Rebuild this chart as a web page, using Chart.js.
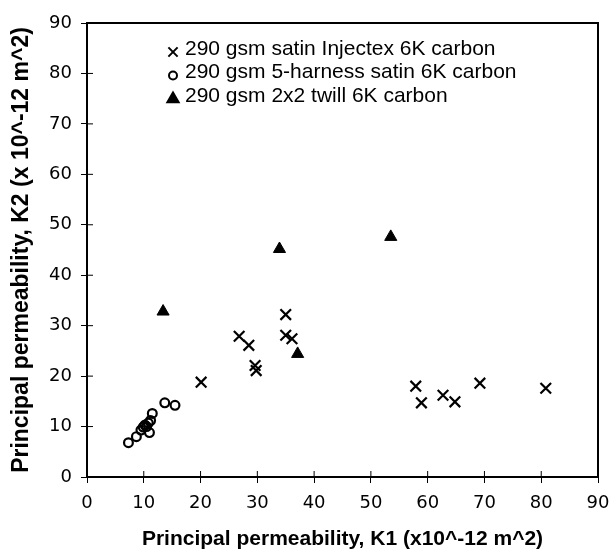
<!DOCTYPE html>
<html><head><meta charset="utf-8">
<script src="https://cdn.jsdelivr.net/npm/chart.js@4"></script>
<style>html,body{margin:0;padding:0;background:#fff}#wrap{width:609px;height:556px}</style>
</head><body><div id="wrap"><canvas id="c"></canvas></div>
<script>
const seriesNames = ["290 gsm satin Injectex 6K carbon","290 gsm 5-harness satin 6K carbon","290 gsm 2x2 twill 6K carbon"];
const injectexK1 = [20.1,26.8,28.5,29.6,29.8,35.0,35.0,36.1,57.9,58.9,62.7,64.8,69.2,80.8];
const injectexK2 = [18.8,27.9,26.1,22.1,21.1,32.2,28.1,27.4,18.0,14.7,16.2,14.9,18.6,17.6];
const harnessK1 = [7.3,8.7,9.5,9.9,10.2,10.5,10.8,11.0,11.2,11.5,13.7,15.5];
const harnessK2 = [6.8,8.0,9.3,9.9,10.3,10.0,10.7,8.8,11.2,12.6,14.7,14.2];
const twillK1 = [13.4,33.9,37.1,53.5];
const twillK2 = [32.8,45.2,24.4,47.6];
const xTicks = [0,10,20,30,40,50,60,70,80,90];
const yTicks = [0,10,20,30,40,50,60,70,80,90];
const xTitle = "Principal permeability, K1 (x10^-12 m^2)";
const yTitle = "Principal permeability, K2 (x 10^-12 m^2)";

const pts = (xs, ys) => xs.map((x,i)=>({x, y: ys[i]}));
const FONT = "'Liberation Sans', Arial, sans-serif";
const TICKFONT = "'DejaVu Sans', sans-serif";

const frame = {
  id: 'frame',
  afterDraw(chart){
    const {ctx, chartArea:a, scales} = chart;
    ctx.save();
    ctx.strokeStyle = '#000'; ctx.lineWidth = 2;
    ctx.strokeRect(a.left, a.top, a.right-a.left, a.bottom-a.top);
    ctx.lineWidth = 1;
    ctx.beginPath();
    xTicks.forEach(v=>{const px=scales.x.getPixelForValue(v); ctx.moveTo(px,a.bottom); ctx.lineTo(px,a.bottom-6);});
    yTicks.forEach(v=>{const py=scales.y.getPixelForValue(v); ctx.moveTo(a.left,py); ctx.lineTo(a.left+6,py);});
    ctx.stroke();
    // legend
    ctx.font = "21px " + FONT;
    ctx.textBaseline = 'middle';
    chart.data.datasets.forEach((ds,i)=>{
      const y = 49 + i*23.5, x = 173;
      const st = ds.pointStyle;
      ctx.strokeStyle = '#000';
      ctx.fillStyle = st==='triangle' ? '#000' : 'rgba(0,0,0,0)';
      ctx.lineWidth = 2;
      Chart.helpers.drawPoint(ctx, {pointStyle: st, radius: st==='triangle'?6.5:(st==='circle'?4:6.5), rotation:0, borderWidth:2}, x, y+3);
      ctx.fillStyle = '#000';
      ctx.fillText(ds.label, 185, y);
    });
    ctx.restore();
  }
};

new Chart(document.getElementById('c'), {
  type: 'scatter',
  data: { datasets: [
    { label: seriesNames[0], data: pts(injectexK1, injectexK2), pointStyle: 'crossRot', radius: 7.5, borderWidth: 2.2, borderColor: '#000', backgroundColor: '#000' },
    { label: seriesNames[1], data: pts(harnessK1, harnessK2), pointStyle: 'circle', radius: 4.4, borderWidth: 2.2, borderColor: '#000', backgroundColor: 'rgba(0,0,0,0)' },
    { label: seriesNames[2], data: pts(twillK1, twillK2), pointStyle: 'triangle', radius: 7, borderWidth: 1, borderColor: '#000', backgroundColor: '#000' }
  ]},
  options: {
    responsive: true, maintainAspectRatio: false, animation: false,
    layout: { padding: { top: 23, right: 0, left: 0, bottom: 0 } },
    plugins: { legend: { display: false }, tooltip: { enabled: false } },
    scales: {
      x: {
        type: 'linear', min: 0, max: 90,
        afterBuildTicks: s => { s.ticks = xTicks.map(v=>({value:v})); },
        afterFit: s => { s.height = 79; s.paddingRight = 11; },
        grid: { drawOnChartArea: false, tickLength: 6, color: '#000' },
        border: { display: false },
        ticks: { color: '#000', font: { family: TICKFONT, size: 18 }, padding: 10, maxRotation: 0 },
        title: { display: true, text: xTitle, color: '#000', font: { family: FONT, size: 21, weight: 'bold' }, padding: { top: 10 } }
      },
      y: {
        type: 'linear', min: 0, max: 90,
        afterBuildTicks: s => { s.ticks = yTicks.map(v=>({value:v})); },
        afterFit: s => { s.width = 87; },
        grid: { drawOnChartArea: false, tickLength: 6, color: '#000' },
        border: { display: false },
        ticks: { color: '#000', font: { family: TICKFONT, size: 18 }, padding: 9 },
        title: { display: true, text: yTitle, color: '#000', font: { family: FONT, size: 23, weight: 'bold' }, padding: { top: 8, bottom: 0 } }
      }
    }
  },
  plugins: [frame]
});
</script></body></html>
